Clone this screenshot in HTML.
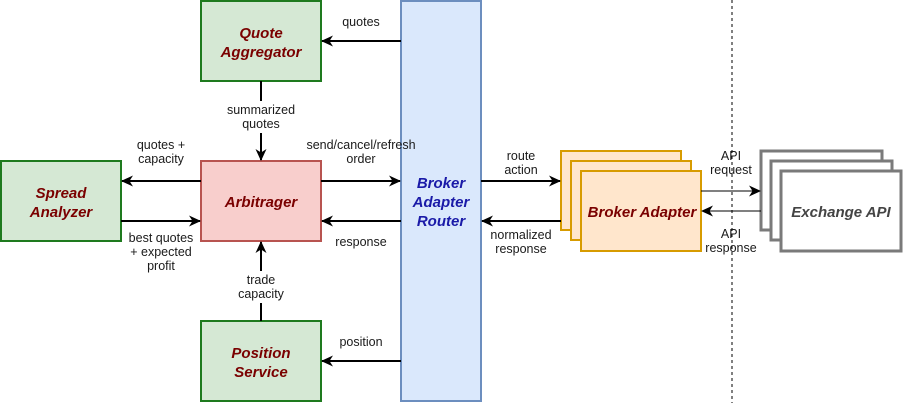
<!DOCTYPE html>
<html><head><meta charset="utf-8"><style>
body{margin:0;background:#fff;}
svg text{font-family:"Liberation Sans",Arial,sans-serif;}
.l{font-size:12.5px;fill:#1a1a1a;text-anchor:middle;}
.b{font-size:15px;font-weight:bold;font-style:italic;text-anchor:middle;}
</style></head><body>
<svg width="903" height="403" viewBox="0 0 903 403" xmlns="http://www.w3.org/2000/svg">
<defs><marker id="a" markerWidth="12" markerHeight="12" refX="11" refY="6" orient="auto" markerUnits="userSpaceOnUse"><path d="M0,0.5 L12,6 L0,11.5 L3.5,6 Z" fill="#000"/></marker></defs>
<g stroke-width="2">
<rect x="201" y="1" width="120" height="80" fill="#d5e8d4" stroke="#1e7a1e"/>
<rect x="201" y="161" width="120" height="80" fill="#f8cecc" stroke="#b85450"/>
<rect x="1" y="161" width="120" height="80" fill="#d5e8d4" stroke="#1e7a1e"/>
<rect x="201" y="321" width="120" height="80" fill="#d5e8d4" stroke="#1e7a1e"/>
<rect x="401" y="1" width="80" height="400" fill="#dae8fc" stroke="#6c8ebf"/>
<rect x="561" y="151" width="120" height="79" fill="#ffe6cc" stroke="#d79b00"/>
<rect x="571" y="161" width="120" height="79" fill="#ffe6cc" stroke="#d79b00"/>
<rect x="581" y="171" width="120" height="80" fill="#ffe6cc" stroke="#d79b00"/>
<rect x="761" y="151" width="121" height="79" fill="#fff" stroke="#7a7a7a" stroke-width="3"/>
<rect x="771" y="161" width="121" height="79" fill="#fff" stroke="#7a7a7a" stroke-width="3"/>
<rect x="781" y="171" width="120" height="80" fill="#fff" stroke="#7a7a7a" stroke-width="3"/>
</g>
<line x1="732" y1="0" x2="732" y2="403" stroke="#000" stroke-dasharray="3,3"/>
<g stroke="#000" stroke-width="2" marker-end="url(#a)">
<line x1="401" y1="41" x2="322" y2="41"/>
<line x1="261" y1="81" x2="261" y2="160"/>
<line x1="201" y1="181" x2="122" y2="181"/>
<line x1="121" y1="221" x2="200" y2="221"/>
<line x1="321" y1="181" x2="400" y2="181"/>
<line x1="401" y1="221" x2="322" y2="221"/>
<line x1="481" y1="181" x2="560" y2="181"/>
<line x1="561" y1="221" x2="482" y2="221"/>
<line x1="261" y1="321" x2="261" y2="242"/>
<line x1="401" y1="361" x2="322" y2="361"/>
</g>
<g stroke="#000" stroke-width="1" marker-end="url(#a)">
<line x1="701" y1="191" x2="760" y2="191"/>
<line x1="761" y1="211" x2="702" y2="211"/>
</g>
<g class="b" fill="#7a0000">
<text x="261" y="38">Quote</text><text x="261" y="57">Aggregator</text>
<text x="261" y="207">Arbitrager</text>
<text x="61" y="198">Spread</text><text x="61" y="217">Analyzer</text>
<text x="261" y="358">Position</text><text x="261" y="377">Service</text>
<text x="642" y="217">Broker Adapter</text>
</g>
<text class="b" x="441" y="188" fill="#1a1aa8">Broker</text>
<text class="b" x="441" y="207" fill="#1a1aa8">Adapter</text>
<text class="b" x="441" y="226" fill="#1a1aa8">Router</text>
<text class="b" x="841" y="217" fill="#444">Exchange API</text>
<g class="l">
<rect x="220" y="101" width="82" height="32" fill="#fff"/>
<text x="361" y="26">quotes</text>
<text x="261" y="114">summarized</text><text x="261" y="128">quotes</text>
<text x="161" y="149">quotes +</text><text x="161" y="163">capacity</text>
<text x="161" y="242">best quotes</text><text x="161" y="256">+ expected</text><text x="161" y="270">profit</text>
<text x="361" y="149">send/cancel/refresh</text><text x="361" y="163">order</text>
<text x="361" y="246">response</text>
<rect x="234" y="271" width="54" height="32" fill="#fff"/>
<text x="261" y="284">trade</text><text x="261" y="298">capacity</text>
<text x="361" y="346">position</text>
<text x="521" y="160">route</text><text x="521" y="174">action</text>
<text x="521" y="239">normalized</text><text x="521" y="253">response</text>
<text x="731" y="160">API</text><text x="731" y="174">request</text>
<text x="731" y="238">API</text><text x="731" y="252">response</text>
</g>
</svg>
</body></html>
